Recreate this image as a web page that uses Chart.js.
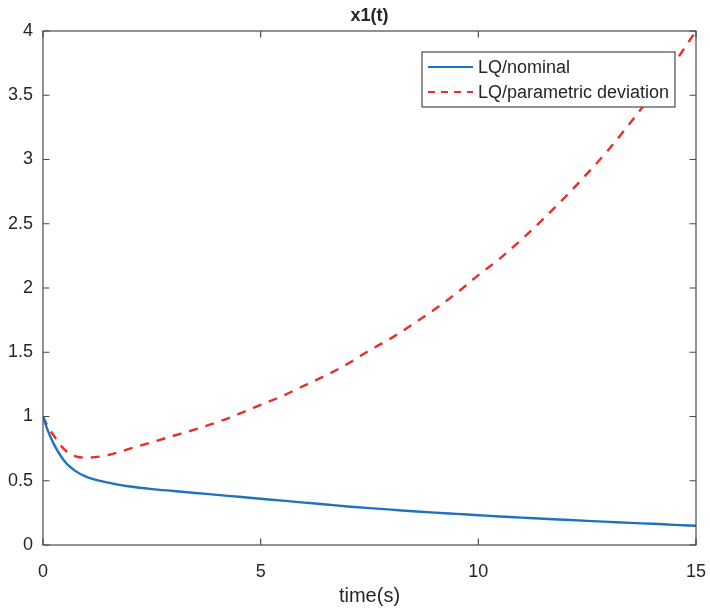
<!DOCTYPE html>
<html>
<head>
<meta charset="utf-8">
<script src="https://cdn.jsdelivr.net/npm/chart.js@4/dist/chart.umd.min.js"></script>
<style>
  html, body { margin: 0; padding: 0; background: #fff; }
  #wrap { width: 710px; height: 614px; }
</style>
</head>
<body>
<div id="wrap"><canvas id="c" width="710" height="614"></canvas></div>
<script>
// time samples (s)
const time = [0, 0.1, 0.25, 0.5, 0.75, 1, 1.5, 2, 2.5, 3, 3.5, 4, 4.5, 5, 5.5, 6, 6.5, 7, 7.5, 8,
  8.5, 9, 9.5, 10, 10.5, 11, 11.5, 12, 12.5, 13, 13.5, 14, 14.5, 15];
// LQ/nominal
const nominal = [1.0, 0.90, 0.785, 0.65, 0.575, 0.53, 0.485, 0.455, 0.435, 0.42, 0.405, 0.39, 0.375,
  0.36, 0.345, 0.33, 0.315, 0.30, 0.287, 0.275, 0.263, 0.252, 0.242, 0.232, 0.222, 0.213, 0.204,
  0.196, 0.188, 0.18, 0.172, 0.165, 0.157, 0.15];
// LQ/parametric deviation
const deviation = [1.0, 0.93, 0.85, 0.74, 0.69, 0.68, 0.70, 0.75, 0.80, 0.85, 0.90, 0.955, 1.02,
  1.09, 1.16, 1.24, 1.32, 1.41, 1.515, 1.61, 1.72, 1.835, 1.96, 2.10, 2.23, 2.38, 2.54, 2.71, 2.89,
  3.08, 3.29, 3.51, 3.75, 4.0];
const seriesNames = ['LQ/nominal', 'LQ/parametric deviation'];
const xTicks = [0, 5, 10, 15];
const yTicks = [0, 0.5, 1, 1.5, 2, 2.5, 3, 3.5, 4];

const FONT = '"Liberation Sans", Arial, Helvetica, sans-serif';
const AXIS = '#4a4a4a';
const TEXT = '#262626';

const pts = (ys) => time.map((t, i) => ({ x: t, y: ys[i] }));

// box, inward ticks, title, x label, legend
const matlabAxes = {
  id: 'matlabAxes',
  afterDraw(chart) {
    const { ctx, chartArea: a, scales } = chart;
    ctx.save();
    ctx.strokeStyle = AXIS;
    ctx.lineWidth = 1.2;
    ctx.strokeRect(a.left, a.top, a.right - a.left, a.bottom - a.top);
    const tl = 6.5;
    ctx.beginPath();
    xTicks.forEach(v => {
      const px = scales.x.getPixelForValue(v);
      ctx.moveTo(px, a.bottom); ctx.lineTo(px, a.bottom - tl);
      ctx.moveTo(px, a.top); ctx.lineTo(px, a.top + tl);
    });
    yTicks.forEach(v => {
      const py = scales.y.getPixelForValue(v);
      ctx.moveTo(a.left, py); ctx.lineTo(a.left + tl, py);
      ctx.moveTo(a.right, py); ctx.lineTo(a.right - tl, py);
    });
    ctx.stroke();

    // title
    ctx.fillStyle = TEXT;
    ctx.textAlign = 'center';
    ctx.textBaseline = 'middle';
    ctx.font = 'bold 18px ' + FONT;
    ctx.fillText('x1(t)', (a.left + a.right) / 2, 16);
    // x label
    ctx.font = '20px ' + FONT;
    ctx.fillText('time(s)', (a.left + a.right) / 2, 596);

    // legend
    const bx = 422, by = 52, bw = 253, bh = 55;
    ctx.fillStyle = '#fff';
    ctx.fillRect(bx, by, bw, bh);
    ctx.strokeStyle = AXIS;
    ctx.lineWidth = 1.2;
    ctx.strokeRect(bx, by, bw, bh);
    chart.data.datasets.forEach((ds, i) => {
      const ry = by + 15 + i * 25;
      ctx.strokeStyle = ds.borderColor;
      ctx.lineWidth = 2.2;
      ctx.setLineDash(ds.borderDash ? [7, 6] : []);
      ctx.beginPath();
      ctx.moveTo(428, ry); ctx.lineTo(473, ry);
      ctx.stroke();
      ctx.setLineDash([]);
      ctx.fillStyle = TEXT;
      ctx.textAlign = 'left';
      ctx.font = '18px ' + FONT;
      ctx.fillText(ds.label, 478, ry + 1);
    });
    ctx.restore();
  }
};

new Chart(document.getElementById('c'), {
  type: 'line',
  data: {
    datasets: [
      { label: seriesNames[0], data: pts(nominal), borderColor: '#1f72bd', borderWidth: 2.4,
        pointRadius: 0, cubicInterpolationMode: 'monotone', fill: false },
      { label: seriesNames[1], data: pts(deviation), borderColor: '#e5302a', borderWidth: 2.4,
        borderDash: [9, 8], pointRadius: 0, cubicInterpolationMode: 'monotone', fill: false }
    ]
  },
  options: {
    responsive: false,
    animation: false,
    layout: { padding: { left: 0, right: 14, top: 31, bottom: 0 } },
    plugins: { legend: { display: false }, title: { display: false }, tooltip: { enabled: false } },
    scales: {
      x: {
        type: 'linear', min: 0, max: 15,
        afterFit: (s) => { s.height = 69; s.paddingLeft = 0; s.paddingRight = 0; },
        afterBuildTicks: (s) => { s.ticks = xTicks.map(v => ({ value: v })); },
        grid: { display: false }, border: { display: false },
        ticks: { color: TEXT, font: { family: FONT, size: 18 }, padding: 8, maxRotation: 0,
          callback: (v) => String(v) }
      },
      y: {
        min: 0, max: 4,
        afterFit: (s) => { s.width = 43; s.paddingTop = 0; s.paddingBottom = 0; },
        afterBuildTicks: (s) => { s.ticks = yTicks.map(v => ({ value: v })); },
        grid: { display: false }, border: { display: false },
        ticks: { color: TEXT, font: { family: FONT, size: 18 }, padding: 2,
          callback: (v) => String(v) }
      }
    }
  },
  plugins: [matlabAxes]
});
</script>
</body>
</html>
